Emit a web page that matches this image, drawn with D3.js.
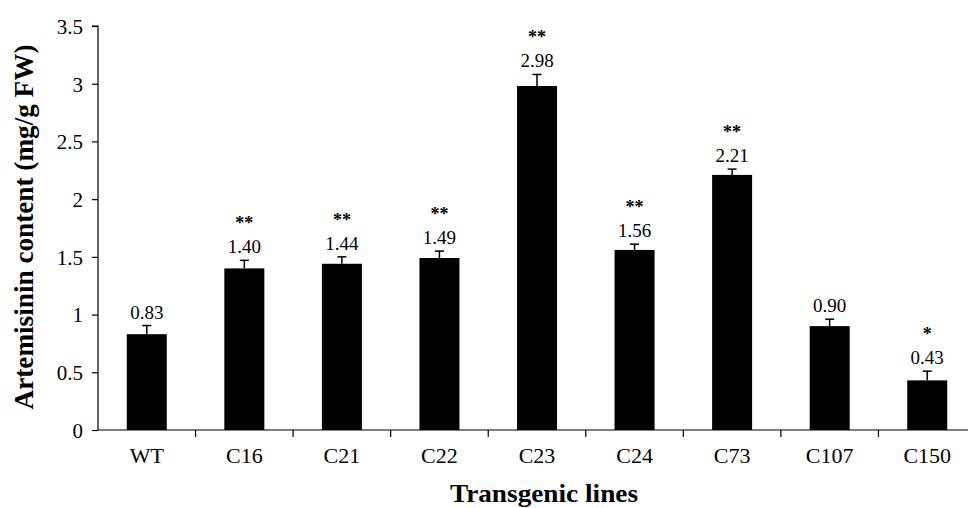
<!DOCTYPE html>
<html><head><meta charset="utf-8">
<script src="https://cdn.jsdelivr.net/npm/d3@7"></script>
<style>body{margin:0;background:#fff}svg{display:block}text{font-family:"Liberation Serif","Times New Roman",serif;fill:#000}</style>
</head><body>
<svg id="c" width="968" height="508"></svg>
<script>
const categories = ["WT","C16","C21","C22","C23","C24","C73","C107","C150"];
const values = [0.83,1.40,1.44,1.49,2.98,1.56,2.21,0.90,0.43];
const errors = [0.075,0.07,0.06,0.06,0.10,0.05,0.05,0.06,0.08];
const valueLabels = ["0.83","1.40","1.44","1.49","2.98","1.56","2.21","0.90","0.43"];
const signif = ["","**","**","**","**","**","**","","*"];
const yTicks = [0,0.5,1,1.5,2,2.5,3,3.5];

const svg = d3.select("#c");
const x0 = 98, xEnd = 976;
const x = d3.scaleBand().domain(categories).range([x0, xEnd]).paddingInner(0).paddingOuter(0);
const y = d3.scaleLinear().domain([0,3.5]).range([430, 26]);
const barW = 40;

// y axis
const yAxis = d3.axisLeft(y).tickValues(yTicks).tickSize(6).tickFormat(d=>String(d));
const gy = svg.append("g").attr("transform",`translate(${x0},0)`).call(yAxis);
gy.select(".domain").attr("stroke","#000").attr("stroke-width",1.2).attr("d",`M-6,${y(3.5)}H0V${y(0)}`);
gy.selectAll(".tick line").attr("stroke","#000").attr("stroke-width",1.2);
gy.selectAll(".tick text").attr("x",-15).attr("dy","0.35em").style("font-size","21px").style("font-family","Liberation Serif");

// x axis line
svg.append("line").attr("x1",x0).attr("x2",968).attr("y1",y(0)).attr("y2",y(0)).attr("stroke","#000").attr("stroke-width",1.2);
// x ticks at band boundaries
categories.forEach((c,i)=>{
  if(i===0) return;
  const xx = x(c);
  svg.append("line").attr("x1",xx).attr("x2",xx).attr("y1",y(0)).attr("y2",y(0)+7).attr("stroke","#000").attr("stroke-width",1.2);
});
// x labels
svg.selectAll(".xl").data(categories).enter().append("text")
  .attr("x",d=>x(d)+x.bandwidth()/2).attr("y",463).attr("text-anchor","middle")
  .style("font-size","22px").text(d=>d);

// bars
svg.selectAll(".bar").data(values).enter().append("rect")
  .attr("x",(d,i)=>x(categories[i])+x.bandwidth()/2-barW/2)
  .attr("width",barW).attr("y",d=>y(d)).attr("height",d=>y(0)-y(d)).attr("fill","#000");

// error bars
values.forEach((v,i)=>{
  const cx = x(categories[i])+x.bandwidth()/2;
  const top = y(v+errors[i]);
  svg.append("line").attr("x1",cx).attr("x2",cx).attr("y1",y(v)).attr("y2",top).attr("stroke","#000").attr("stroke-width",1.5);
  svg.append("line").attr("x1",cx-4.5).attr("x2",cx+4.5).attr("y1",top).attr("y2",top).attr("stroke","#000").attr("stroke-width",1.5);
  svg.append("text").attr("x",cx).attr("y",top-7).attr("text-anchor","middle").style("font-size","19px").text(valueLabels[i]);
  if(signif[i]) svg.append("text").attr("x",cx).attr("y",top-31).attr("text-anchor","middle").style("font-size","18px").style("font-weight","bold").text(signif[i]);
});

// axis titles
svg.append("text").attr("transform","translate(33,227) rotate(-90)").attr("text-anchor","middle")
  .attr("textLength",365).attr("lengthAdjust","spacingAndGlyphs")
  .style("font-size","27px").style("font-weight","bold").text("Artemisinin content (mg/g FW)");
svg.append("text").attr("x",544).attr("y",502).attr("text-anchor","middle")
  .attr("textLength",188).attr("lengthAdjust","spacingAndGlyphs")
  .style("font-size","25px").style("font-weight","bold").text("Transgenic lines");
</script>
</body></html>
